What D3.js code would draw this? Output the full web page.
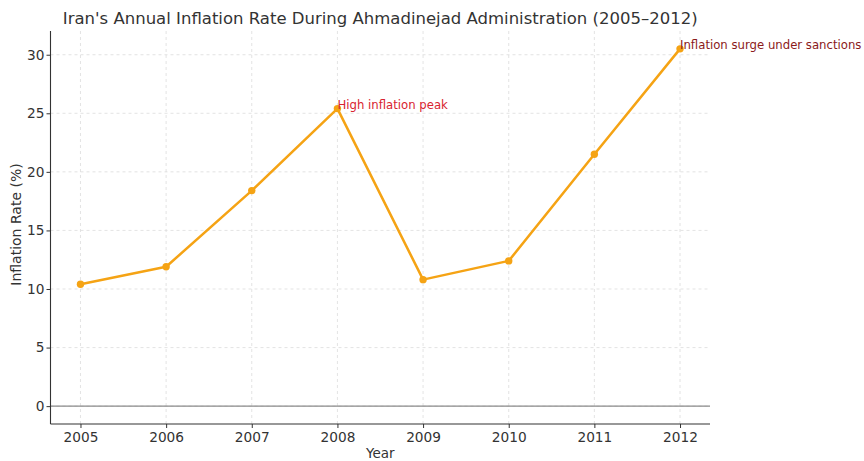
<!DOCTYPE html>
<html>
<head>
<meta charset="utf-8">
<script src="https://cdn.jsdelivr.net/npm/d3@7"></script>
<style>
  html, body { margin: 0; padding: 0; background: #fff; }
  svg text { font-family: "DejaVu Sans", sans-serif; }
</style>
</head>
<body>
<svg id="chart" width="864" height="461"></svg>
<script>
// Annual inflation, Iran, 2005–2012
const years = [2005, 2006, 2007, 2008, 2009, 2010, 2011, 2012];
const inflation = [10.4, 11.9, 18.4, 25.4, 10.8, 12.4, 21.5, 30.5];
const yTicks = [0, 5, 10, 15, 20, 25, 30];
const notes = [
  { year: 2008, text: "High inflation peak", color: "#d8232f" },
  { year: 2012, text: "Inflation surge under sanctions", color: "#8b1a1a" }
];

const svg = d3.select("#chart");
const margin = { left: 50.5, right: 154, top: 31, bottom: 37 };
const W = 864, H = 461;
const innerW = W - margin.left - margin.right;
const innerH = H - margin.top - margin.bottom;

// matplotlib-style 5% padding around the data (and the zero line)
const xPad = (d3.max(years) - d3.min(years)) * 0.05;
const yMin = 0, yMax = d3.max(inflation);
const yPad = (yMax - yMin) * 0.05;

const x = d3.scaleLinear()
  .domain([d3.min(years) - xPad, d3.max(years) + xPad])
  .range([0, innerW]);
const y = d3.scaleLinear()
  .domain([yMin - yPad, yMax + yPad])
  .range([innerH, 0]);

const g = svg.append("g").attr("transform", `translate(${margin.left},${margin.top})`);

// grid
g.append("g").selectAll("line").data(years).join("line")
  .attr("x1", d => x(d)).attr("x2", d => x(d))
  .attr("y1", 0).attr("y2", innerH)
  .attr("stroke", "#dcdcdc").attr("stroke-width", 0.8)
  .attr("stroke-dasharray", "3,3");
g.append("g").selectAll("line").data(yTicks).join("line")
  .attr("x1", 0).attr("x2", innerW)
  .attr("y1", d => y(d)).attr("y2", d => y(d))
  .attr("stroke", "#dcdcdc").attr("stroke-width", 0.8)
  .attr("stroke-dasharray", "3,3");

// zero reference line
g.append("line")
  .attr("x1", 0).attr("x2", innerW)
  .attr("y1", y(0)).attr("y2", y(0))
  .attr("stroke", "#8a8a8a").attr("stroke-width", 1.2);

// axes
const xAxis = g.append("g")
  .attr("transform", `translate(0,${innerH})`)
  .call(d3.axisBottom(x).tickValues(years).tickFormat(d3.format("d")).tickSizeOuter(0).tickSize(4).tickPadding(4));
const yAxis = g.append("g")
  .call(d3.axisLeft(y).tickValues(yTicks).tickSizeOuter(0).tickSize(4).tickPadding(2));

[xAxis, yAxis].forEach(a => {
  a.select(".domain").attr("stroke", "#333").attr("stroke-width", 1.1);
  a.selectAll(".tick line").attr("stroke", "#333").attr("stroke-width", 1);
  a.selectAll(".tick text").attr("fill", "#333").style("font-size", "13.7px")
    .style("font-family", "DejaVu Sans, sans-serif");
});
// spines span the whole plot area
xAxis.select(".domain").attr("d", `M0,0H${innerW}`);
yAxis.select(".domain").attr("d", `M0,0V${innerH}`);

// line + markers
const pts = years.map((yr, i) => ({ yr, v: inflation[i] }));
g.append("path").datum(pts)
  .attr("fill", "none")
  .attr("stroke", "#f5a314")
  .attr("stroke-width", 2.5)
  .attr("stroke-linejoin", "round")
  .attr("d", d3.line().x(d => x(d.yr)).y(d => y(d.v)));
g.append("g").selectAll("circle").data(pts).join("circle")
  .attr("cx", d => x(d.yr)).attr("cy", d => y(d.v))
  .attr("r", 3.7).attr("fill", "#f5a314");

// annotations
g.append("g").selectAll("text").data(notes).join("text")
  .attr("x", d => x(d.year))
  .attr("y", d => y(inflation[years.indexOf(d.year)]))
  .attr("fill", d => d.color)
  .style("font-size", "11.7px")
  .text(d => d.text);

// title and axis labels
svg.append("text")
  .attr("x", margin.left + innerW / 2).attr("y", 24)
  .attr("text-anchor", "middle")
  .attr("fill", "#333")
  .style("font-size", "16.5px")
  .text("Iran's Annual Inflation Rate During Ahmadinejad Administration (2005–2012)");
svg.append("text")
  .attr("x", margin.left + innerW / 2).attr("y", 458)
  .attr("text-anchor", "middle")
  .attr("fill", "#333")
  .style("font-size", "13.5px")
  .text("Year");
svg.append("text")
  .attr("transform", `translate(21,${margin.top + innerH / 2 - 3}) rotate(-90)`)
  .attr("text-anchor", "middle")
  .attr("fill", "#333")
  .style("font-size", "14px")
  .text("Inflation Rate (%)");
</script>
</body>
</html>
